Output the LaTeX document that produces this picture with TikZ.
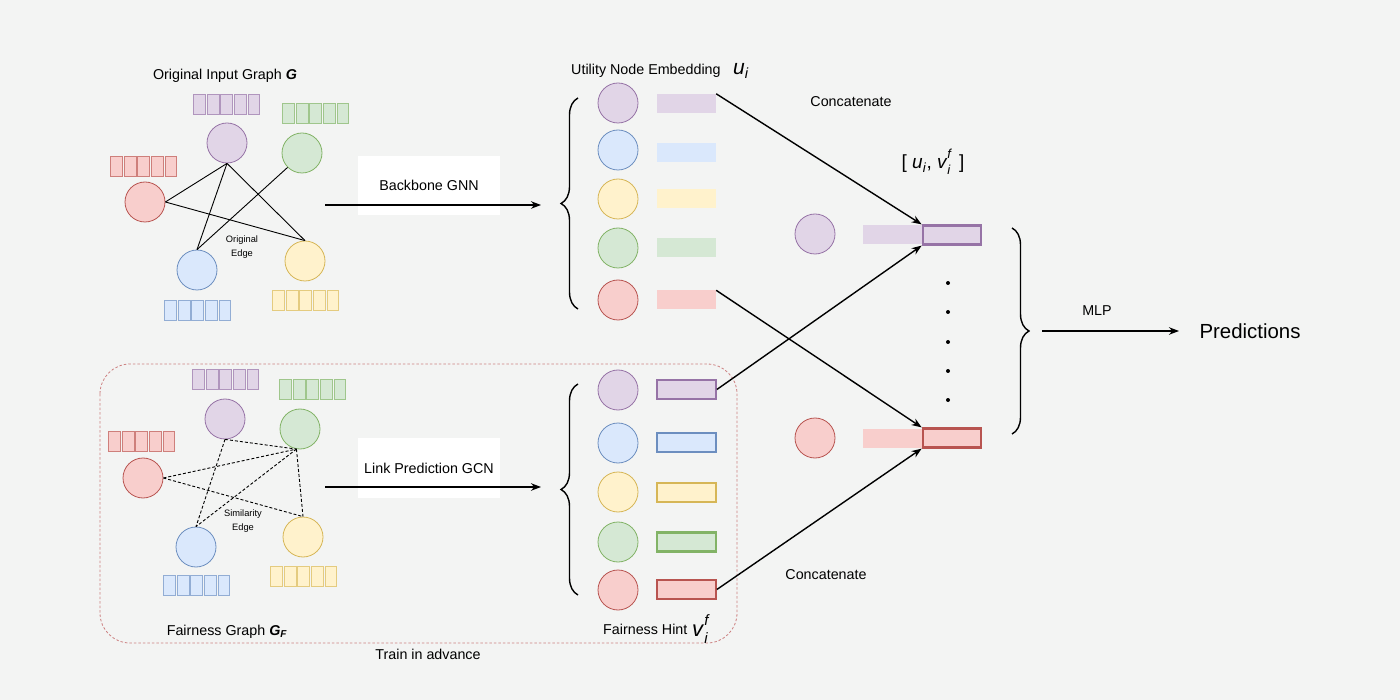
\documentclass[tikz,border=0pt]{standalone}
\usepackage{fontspec}
\setmainfont{Liberation Sans}
\usetikzlibrary{arrows.meta,decorations.pathreplacing}
\definecolor{bgc}{HTML}{F3F4F3}
\definecolor{pF}{HTML}{E1D5E7}\definecolor{pS}{HTML}{9673A6}
\definecolor{bF}{HTML}{DAE8FC}\definecolor{bS}{HTML}{6C8EBF}
\definecolor{yF}{HTML}{FFF2CC}\definecolor{yS}{HTML}{D6B656}
\definecolor{gF}{HTML}{D5E8D4}\definecolor{gS}{HTML}{82B366}
\definecolor{rF}{HTML}{F8CECC}\definecolor{rS}{HTML}{B85450}
\definecolor{dashred}{HTML}{CC8080}
\newcommand\featrow[4]{%
  \foreach \k in {0,...,4}{\draw[draw=#4!65!#3,fill=#3,line width=0.8pt] ({#1+\k*13.6+0.5},#2) rectangle ++(11.8,20);}}
\newcommand\vif[1]{\textit{v}\rlap{\raisebox{0.5em}{\fontsize{#1}{#1}\selectfont\textit{f}}}\raisebox{-0.32em}{\fontsize{#1}{#1}\selectfont\textit{i}}}
\tikzset{
  circ/.style={circle,minimum size=40pt,inner sep=0pt,line width=0.8pt},
  lbl/.style={font=\fontsize{14.3}{16}\selectfont,inner sep=0pt},
  smalllbl/.style={font=\fontsize{9.3}{14}\selectfont,align=center,inner sep=0pt},
  conn/.style={line width=1.4pt,-{Stealth[length=10pt,width=7.5pt]}},
  gedge/.style={line width=0.9pt},
  simedge/.style={line width=0.9pt,dash pattern=on 3pt off 2pt},
  hbar/.style={minimum width=59pt,minimum height=19pt,inner sep=0pt},
  obar/.style={minimum width=58.5pt,minimum height=19pt,inner sep=0pt,line width=2.2pt},
  bracestyle/.style={line width=1.4pt,decorate,decoration={brace,amplitude=17pt}},
}
\begin{document}
\begin{tikzpicture}[x=1pt,y=-1pt]
\fill[bgc] (0,0) rectangle (1400,700);
\useasboundingbox (0,0) rectangle (1400,700);

% ---------- Top: original graph
\node[lbl] (t1) at (225,76) {Original Input Graph \textbf{\textit{G}}};
\featrow{193}{94}{pF}{pS}
\featrow{282}{103}{gF}{gS}
\featrow{110}{156}{rF}{rS}
\featrow{164}{300}{bF}{bS}
\featrow{272}{290}{yF}{yS}
\node[circ,draw=pS,fill=pF] (tP) at (227,143) {};
\node[circ,draw=gS,fill=gF] (tG) at (302,153) {};
\node[circ,draw=rS,fill=rF] (tR) at (145,202) {};
\node[circ,draw=bS,fill=bF] (tB) at (197,270) {};
\node[circ,draw=yS,fill=yF] (tY) at (305,261) {};
\draw[gedge] (tP.south) -- (tR.east);
\draw[gedge] (tP.south) -- (tB.north);
\draw[gedge] (tP.south) -- (tY.north);
\draw[gedge] (tR.east) -- (tY.north);
\draw[gedge] (tG.225) -- (tB.north);
\node[smalllbl] (oe) at (242,247) {Original\\Edge};

% ---------- Bottom: fairness graph
\draw[dashred,line width=0.8pt,dash pattern=on 2.5pt off 2pt,rounded corners=30pt] (100,364) rectangle (737,643);
\featrow{192}{369}{pF}{pS}
\featrow{279}{379}{gF}{gS}
\featrow{108}{431}{rF}{rS}
\featrow{163}{575}{bF}{bS}
\featrow{270}{566}{yF}{yS}
\node[circ,draw=pS,fill=pF] (bP) at (225,419) {};
\node[circ,draw=gS,fill=gF] (bG) at (300,429) {};
\node[circ,draw=rS,fill=rF] (bR) at (143,478) {};
\node[circ,draw=bS,fill=bF] (bB) at (196,547) {};
\node[circ,draw=yS,fill=yF] (bY) at (303,537) {};
\draw[simedge] (bP.south) -- (bG.260);
\draw[simedge] (bP.south) -- (bB.north);
\draw[simedge] (bR.east) -- (bG.260);
\draw[simedge] (bR.east) -- (bY.north);
\draw[simedge] (bG.260) -- (bB.north);
\draw[simedge] (bG.260) -- (bY.north);
\node[smalllbl] (se) at (243,521) {Similarity\\Edge};
\node[lbl] (fg) at (227,632) {Fairness Graph \textbf{\textit{G}\textsubscript{\textit{F}}}};
\node[lbl] (tia) at (428,654) {Train in advance};

% ---------- middle arrows
\node[lbl,fill=white,minimum width=142pt,minimum height=59pt] (bbg) at (429,185.5) {Backbone GNN};
\coordinate (a1s) at (325,205);
\coordinate (a1e) at (541,205);
\draw[conn] (a1s) -- (a1e);
\node[lbl,fill=white,minimum width=142pt,minimum height=60pt] (lpg) at (429,468) {Link Prediction GCN};
\coordinate (a2s) at (325,487);
\coordinate (a2e) at (541,487);
\draw[conn] (a2s) -- (a2e);

% ---------- utility embeddings
\node[lbl,anchor=base west] (ut) at (571,75) {Utility Node Embedding};
\node[anchor=base west,inner sep=0pt,font=\fontsize{21}{24}\selectfont] (uti) at (733,75) {\textit{u}\textsubscript{\textit{i}}};
\draw[bracestyle] (578,309) -- (578,98);
\node[circ,draw=pS,fill=pF] (uc1) at (618,103) {};
\node[circ,draw=bS,fill=bF] (uc2) at (618,150) {};
\node[circ,draw=yS,fill=yF] (uc3) at (618,199) {};
\node[circ,draw=gS,fill=gF] (uc4) at (618,248) {};
\node[circ,draw=rS,fill=rF] (uc5) at (618,300) {};
\node[hbar,fill=pF] (ub1) at (686.5,103.5) {};
\node[hbar,fill=bF] (ub2) at (686.5,153) {};
\node[hbar,fill=yF] (ub3) at (686.5,199) {};
\node[hbar,fill=gF] (ub4) at (686.5,248) {};
\node[hbar,fill=rF] (ub5) at (686.5,300) {};

% ---------- fairness hints
\draw[bracestyle] (578,595) -- (578,384);
\node[circ,draw=pS,fill=pF] (fc1) at (618,390) {};
\node[circ,draw=bS,fill=bF] (fc2) at (618,443) {};
\node[circ,draw=yS,fill=yF] (fc3) at (618,492) {};
\node[circ,draw=gS,fill=gF] (fc4) at (618,542) {};
\node[circ,draw=rS,fill=rF] (fc5) at (618,590) {};
\node[obar,draw=pS,fill=pF] (fb1) at (686.5,389.5) {};
\node[obar,draw=bS,fill=bF] (fb2) at (686.5,442.5) {};
\node[obar,draw=yS,fill=yF] (fb3) at (686.5,492.5) {};
\node[obar,draw=gS,fill=gF] (fb4) at (686.5,542) {};
\node[obar,draw=rS,fill=rF] (fb5) at (686.5,589.5) {};
\node[lbl,anchor=base west] (fh) at (603,634) {Fairness Hint};
\node[anchor=base west,inner sep=0pt,font=\fontsize{22}{24}\selectfont] (fhv) at (692,636) {\vif{15}};

% ---------- concatenation
\node[lbl] (cc1) at (851,102) {Concatenate};
\node[lbl] (cc2) at (826,575) {Concatenate};
\node[inner sep=0pt,font=\fontsize{19}{22}\selectfont] (uv) at (933,162) {[ \textit{u}\textsubscript{\textit{i}}, \vif{13}\, ]};
\node[circ,draw=pS,fill=pF] (rcP) at (815,234) {};
\node[circ,draw=rS,fill=rF] (rcR) at (815,438) {};
\node[hbar,fill=pF] (pl) at (892.5,235) {};
\node[obar,draw=pS,fill=pF] (pc) at (952,235) {};
\node[hbar,fill=rF] (rl) at (892.5,438) {};
\node[obar,draw=rS,fill=rF] (rc) at (952,438) {};
\foreach \yy in {283,312,342,371,400} \fill (948,\yy) circle (2pt);
\draw[conn] (ub1.north east) -- (pc.north west);
\draw[conn] (ub5.north east) -- (rc.north west);
\draw[conn] (fb1.east) -- (pc.south west);
\draw[conn] (fb5.east) -- (rc.south west);

% ---------- MLP / predictions
\draw[bracestyle] (1012,228) -- (1012,434);
\coordinate (m1) at (1042,331);
\node[inner sep=0pt,font=\fontsize{20.4}{24}\selectfont] (pred) at (1250,331) {Predictions};
\draw[conn] (m1) -- (1179,331);
\node[lbl] (mlp) at (1097,311) {MLP};
\end{tikzpicture}
\end{document}
